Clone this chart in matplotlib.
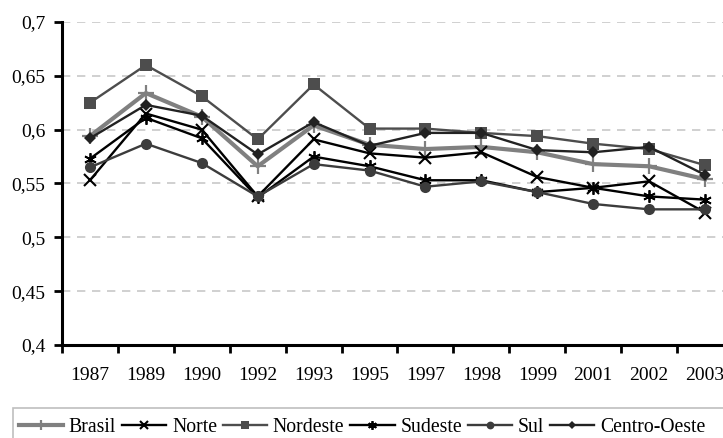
import matplotlib
matplotlib.use("Agg")
import matplotlib.pyplot as plt
from matplotlib.patches import Rectangle
from matplotlib.ticker import FixedLocator, NullFormatter, FixedFormatter

plt.rcParams['font.family'] = ['Liberation Serif', 'DejaVu Serif']

years = ["1987", "1989", "1990", "1992", "1993", "1995", "1997", "1998", "1999", "2001", "2002", "2003"]

brasil = [0.594, 0.634, 0.612, 0.566, 0.604, 0.586, 0.582, 0.584, 0.579, 0.568, 0.566, 0.554]
norte = [0.553, 0.615, 0.600, 0.538, 0.591, 0.578, 0.574, 0.579, 0.556, 0.546, 0.552, 0.523]
nordeste = [0.625, 0.660, 0.631, 0.591, 0.642, 0.601, 0.601, 0.597, 0.594, 0.587, 0.582, 0.567]
sudeste = [0.573, 0.611, 0.592, 0.537, 0.575, 0.566, 0.553, 0.553, 0.542, 0.546, 0.538, 0.535]
sul = [0.565, 0.587, 0.569, 0.538, 0.568, 0.562, 0.547, 0.552, 0.542, 0.531, 0.526, 0.526]
centro_oeste = [0.592, 0.623, 0.613, 0.577, 0.607, 0.585, 0.597, 0.597, 0.581, 0.579, 0.584, 0.558]

series_names = ["Brasil", "Norte", "Nordeste", "Sudeste", "Sul", "Centro-Oeste"]
series_vals = [brasil, norte, nordeste, sudeste, sul, centro_oeste]

styles = [
    dict(color="#808080", lw=3.0, marker="+", ms=11, mew=1.6),
    dict(color="#000000", lw=1.7, marker="x", ms=8, mew=1.5),
    dict(color="#4d4d4d", lw=1.7, marker="s", ms=8, mew=0),
    dict(color="#000000", lw=1.7, marker=(6, 2, 0), ms=9, mew=1.3),
    dict(color="#3c3c3c", lw=1.7, marker="o", ms=8, mew=0),
    dict(color="#222222", lw=1.7, marker="D", ms=6, mew=0),
]

W, H = 723, 438
fig = plt.figure(figsize=(W / 100, H / 100), dpi=100)
ax = fig.add_axes([62 / W, 1 - 345 / H, (733 - 62) / W, (345 - 22) / H])

x = list(range(len(years)))
handles = []
for name, vals, st in zip(series_names, series_vals, styles):
    h, = ax.plot(x, vals, color=st["color"], lw=st["lw"], marker=st["marker"],
                 ms=st["ms"], mew=st["mew"], mec=st["color"], mfc=st["color"],
                 label=name, clip_on=False, zorder=3)
    handles.append(h)

ax.set_xlim(-0.5, len(years) - 0.5)
ax.set_ylim(0.4, 0.7)

yt = [0.4, 0.45, 0.5, 0.55, 0.6, 0.65, 0.7]
ax.set_yticks(yt)
ax.set_yticklabels([f"{v:g}".replace(".", ",") for v in yt], fontsize=14)
for v in yt[1:]:
    ax.axhline(v, color="#c8c8c8", lw=1.2, ls=(0, (5, 4)), zorder=1)

ax.xaxis.set_major_locator(FixedLocator([i - 0.5 for i in range(len(years) + 1)]))
ax.xaxis.set_major_formatter(NullFormatter())
ax.xaxis.set_minor_locator(FixedLocator(x))
ax.xaxis.set_minor_formatter(FixedFormatter(years))
ax.tick_params(axis="x", which="major", length=6, width=2, direction="out")
ax.tick_params(axis="x", which="minor", length=0, labelsize=14, pad=16)
ax.tick_params(axis="y", which="major", length=6, width=2, direction="out", labelsize=14, pad=6)

for s in ["top", "right"]:
    ax.spines[s].set_visible(False)
for s in ["left", "bottom"]:
    ax.spines[s].set_linewidth(2.2)
    ax.spines[s].set_color("black")

# legend frame (extends past the right and bottom edges as in the reference)
fig.patches.append(Rectangle((13 / W, -0.05), 1.0, (0.05 + 1 - 408 / H),
                             transform=fig.transFigure, fill=False,
                             edgecolor="#bfbfbf", lw=1.2, zorder=0))

leg = fig.legend(handles=handles, labels=series_names, loc="center left",
                 bbox_to_anchor=(13 / W, 1 - 427 / H), ncol=6,
                 prop=dict(family="Liberation Serif", size=14.2),
                 handlelength=2.25, handletextpad=0.28, columnspacing=0.3,
                 borderpad=0.3, frameon=False, markerscale=0.7,
                 borderaxespad=0)

fig.savefig("out.png", dpi=100)
